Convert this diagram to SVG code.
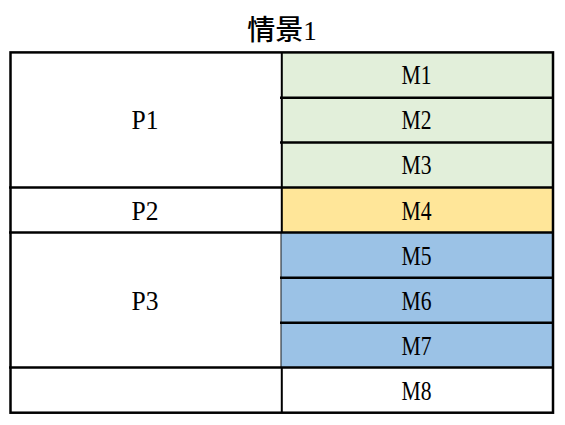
<svg xmlns="http://www.w3.org/2000/svg" width="565" height="425" viewBox="0 0 565 425">
<style>
.lbl{font-family:"Liberation Serif","DejaVu Serif",serif;font-size:27px;fill:#000;text-anchor:middle}
.ln{stroke:#000;stroke-width:2.5;fill:none}
.lv{stroke:#000;stroke-width:2;fill:none}
.title{font-family:"Noto Sans CJK SC",sans-serif;font-size:28px;font-weight:500;fill:#000;text-anchor:middle}
</style>
<rect x="0" y="0" width="565" height="425" fill="#fff"/>
<text class="title" x="282" y="39.5">情景<tspan font-family="Liberation Serif, serif" font-weight="400" font-size="27">1</tspan></text>
<g id="P1"><rect x="10.5" y="52.3" width="271" height="135.1" fill="#fff"/><text class="lbl" x="145" y="129" textLength="27" lengthAdjust="spacingAndGlyphs">P1</text></g>
<g id="P2"><rect x="10.5" y="187.4" width="271" height="45.1" fill="#fff"/><text class="lbl" x="145" y="219.5" textLength="27" lengthAdjust="spacingAndGlyphs">P2</text></g>
<g id="P3"><rect x="10.5" y="232.5" width="271" height="135" fill="#fff"/><text class="lbl" x="145" y="309.5" textLength="27" lengthAdjust="spacingAndGlyphs">P3</text></g>
<g id="P4"><rect x="10.5" y="367.5" width="271" height="45" fill="#fff"/></g>
<g id="M1"><rect x="281.5" y="52.3" width="271.5" height="45" fill="#E2EFDA"/><text class="lbl" x="416.5" y="84" textLength="30" lengthAdjust="spacingAndGlyphs">M1</text></g>
<g id="M2"><rect x="281.5" y="97.3" width="271.5" height="45.1" fill="#E2EFDA"/><text class="lbl" x="416.5" y="129" textLength="30" lengthAdjust="spacingAndGlyphs">M2</text></g>
<g id="M3"><rect x="281.5" y="142.4" width="271.5" height="45" fill="#E2EFDA"/><text class="lbl" x="416.5" y="174" textLength="30" lengthAdjust="spacingAndGlyphs">M3</text></g>
<g id="M4"><rect x="281.5" y="187.4" width="271.5" height="45.1" fill="#FFE699"/><text class="lbl" x="416.5" y="219.5" textLength="30" lengthAdjust="spacingAndGlyphs">M4</text></g>
<g id="M5"><rect x="281" y="232.5" width="272" height="45" fill="#9BC2E6"/><text class="lbl" x="416.5" y="264.5" textLength="30" lengthAdjust="spacingAndGlyphs">M5</text></g>
<g id="M6"><rect x="281" y="277.5" width="272" height="45" fill="#9BC2E6"/><text class="lbl" x="416.5" y="309.5" textLength="30" lengthAdjust="spacingAndGlyphs">M6</text></g>
<g id="M7"><rect x="281" y="322.5" width="272" height="45" fill="#9BC2E6"/><text class="lbl" x="416.5" y="354.5" textLength="30" lengthAdjust="spacingAndGlyphs">M7</text></g>
<g id="M8"><rect x="281.5" y="367.5" width="271.5" height="45" fill="#fff"/><text class="lbl" x="416.5" y="399.5" textLength="30" lengthAdjust="spacingAndGlyphs">M8</text></g>
<g id="connectors">
<line class="lv" x1="281.8" y1="52.3" x2="281.8" y2="232.5"/>
<line x1="281" y1="232.5" x2="281" y2="367.5" stroke="#1a1a1a" stroke-width="1"/>
<line class="lv" x1="281.8" y1="367.5" x2="281.8" y2="412.5"/>
<line class="ln" x1="280" y1="97.8" x2="553" y2="97.8"/>
<line class="ln" x1="280" y1="142.6" x2="553" y2="142.6"/>
<line class="ln" x1="280" y1="277.8" x2="553" y2="277.8"/>
<line class="ln" x1="280" y1="322.8" x2="553" y2="322.8"/>
<line class="ln" x1="9" y1="187.5" x2="554" y2="187.5"/>
<line class="ln" x1="9" y1="232.5" x2="554" y2="232.5"/>
<line class="ln" x1="9" y1="367.5" x2="554" y2="367.5"/>
<rect class="ln" x="10.5" y="52.4" width="542.5" height="360.3"/>
</g>
</svg>
